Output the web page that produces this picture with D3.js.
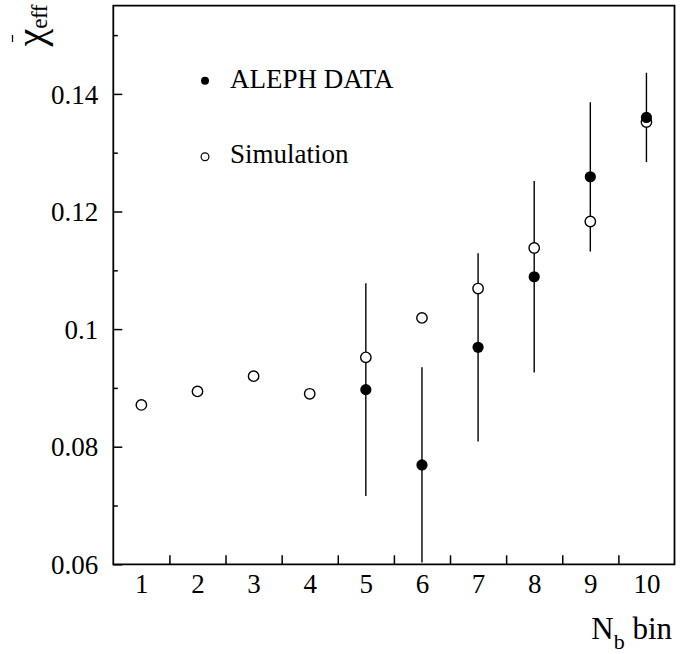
<!DOCTYPE html>
<html>
<head>
<meta charset="utf-8">
<script src="https://cdn.jsdelivr.net/npm/d3@7"></script>
<style>
  html, body { margin: 0; padding: 0; background: #fff; }
  svg { display: block; }
  text { font-family: "Liberation Serif", "Times New Roman", serif; fill: #000; }
</style>
</head>
<body>
<svg id="chart" width="699" height="654"></svg>
<script>
// N_b bins
const bins = [1, 2, 3, 4, 5, 6, 7, 8, 9, 10];
// Simulated effective mixing parameter per bin
const simValues = [0.0871, 0.0894, 0.0920, 0.0890, 0.0952, 0.1019, 0.1069, 0.1138, 0.1183, 0.1352];
// ALEPH measurements (bins 5-10) and their uncertainties
const dataBins = [5, 6, 7, 8, 9, 10];
const dataValues = [0.0897, 0.0769, 0.0969, 0.1089, 0.1259, 0.1360];
const dataErrors = [0.0181, 0.0166, 0.0160, 0.0163, 0.0127, 0.0076];
// Axis ticks
const yMajorTicks = [0.06, 0.08, 0.10, 0.12, 0.14];
const yTickLabels = ["0.06", "0.08", "0.1", "0.12", "0.14"];
const yMinorTicks = [0.07, 0.09, 0.11, 0.13, 0.15];
const xEdgeTicks = [1.5, 2.5, 3.5, 4.5, 5.5, 6.5, 7.5, 8.5, 9.5];

const svg = d3.select("#chart");
const frameL = 113.3, frameR = 674.5, frameT = 5.7, frameB = 564.3;

const x = d3.scaleLinear().domain([0.5, 10.5]).range([frameL, frameR]);
const y = d3.scaleLinear().domain([0.06, 0.155]).range([frameB, frameT]);

svg.append("defs").append("clipPath").attr("id", "plotArea")
  .append("rect")
  .attr("x", frameL).attr("y", frameT)
  .attr("width", frameR - frameL).attr("height", frameB - frameT);

// Y axis: long ticks with labels, short ticks in between
const yAxis = d3.axisLeft(y)
  .tickValues(yMajorTicks)
  .tickSize(-9)
  .tickPadding(15)
  .tickFormat((d, i) => yTickLabels[i]);
const gy = svg.append("g").attr("transform", `translate(${frameL},0)`).call(yAxis);
gy.select(".domain").remove();
gy.selectAll(".tick line").attr("stroke", "#000").attr("stroke-width", 1.5);
gy.selectAll(".tick text")
  .attr("font-size", 27)
  .attr("font-family", "Liberation Serif, serif")
  .attr("dy", "0.34em");

const yMinor = d3.axisLeft(y).tickValues(yMinorTicks).tickSize(-4.5).tickFormat("");
const gym = svg.append("g").attr("transform", `translate(${frameL},0)`).call(yMinor);
gym.select(".domain").remove();
gym.selectAll(".tick line").attr("stroke", "#000").attr("stroke-width", 1.5);

// X axis: ticks at bin edges, labels at bin centres
const xAxis = d3.axisBottom(x).tickValues(xEdgeTicks).tickSize(-9).tickFormat("");
const gx = svg.append("g").attr("transform", `translate(0,${frameB})`).call(xAxis);
gx.select(".domain").remove();
gx.selectAll(".tick line").attr("stroke", "#000").attr("stroke-width", 1.5);

const xLabels = d3.axisBottom(x).tickValues(bins).tickSize(0).tickPadding(10).tickFormat(d3.format("d"));
const gxl = svg.append("g").attr("transform", `translate(0,${frameB})`).call(xLabels);
gxl.select(".domain").remove();
gxl.selectAll(".tick text")
  .attr("font-size", 27)
  .attr("font-family", "Liberation Serif, serif")
  .attr("dy", "0.71em");

// Frame
svg.append("path")
  .attr("d", `M${frameL},${frameB}V${frameT}H${frameR}V${frameB}Z`)
  .attr("fill", "none").attr("stroke", "#000").attr("stroke-width", 1.8);

const plot = svg.append("g").attr("clip-path", "url(#plotArea)");

// Error bars of the measurement
plot.selectAll("line.err")
  .data(dataBins.map((b, i) => ({ b, v: dataValues[i], e: dataErrors[i] })))
  .join("line")
  .attr("class", "err")
  .attr("x1", d => x(d.b)).attr("x2", d => x(d.b))
  .attr("y1", d => y(d.v - d.e)).attr("y2", d => y(d.v + d.e))
  .attr("stroke", "#000").attr("stroke-width", 1.4);

// Simulation points (open circles)
plot.selectAll("circle.sim")
  .data(bins.map((b, i) => ({ b, v: simValues[i] })))
  .join("circle")
  .attr("class", "sim")
  .attr("cx", d => x(d.b)).attr("cy", d => y(d.v))
  .attr("r", 5.2)
  .attr("fill", "#fff").attr("stroke", "#000").attr("stroke-width", 1.4);

// ALEPH data points (filled circles)
plot.selectAll("circle.data")
  .data(dataBins.map((b, i) => ({ b, v: dataValues[i] })))
  .join("circle")
  .attr("class", "data")
  .attr("cx", d => x(d.b)).attr("cy", d => y(d.v))
  .attr("r", 5.6)
  .attr("fill", "#000");

// Legend
const legend = svg.append("g");
legend.append("circle").attr("cx", 205).attr("cy", 80.7).attr("r", 4).attr("fill", "#000");
legend.append("text").attr("x", 230).attr("y", 88.3).attr("font-size", 27).text("ALEPH DATA");
legend.append("circle").attr("cx", 205).attr("cy", 156.7).attr("r", 3.9)
  .attr("fill", "#fff").attr("stroke", "#000").attr("stroke-width", 1.2);
legend.append("text").attr("x", 230).attr("y", 163.3).attr("font-size", 27).text("Simulation");

// X axis title: N_b bin
const xt = svg.append("text")
  .attr("x", 672).attr("y", 639)
  .attr("text-anchor", "end")
  .attr("font-size", 31);
xt.append("tspan").text("N");
xt.append("tspan").attr("font-size", 22).attr("dy", 10).text("b");
xt.append("tspan").attr("dy", -10).text(" bin");

// Y axis title: barred chi with "eff" subscript, rotated
const yt = svg.append("g").attr("transform", "translate(43.5,5) rotate(-90)");
const ytt = yt.append("text")
  .attr("x", 0).attr("y", 0)
  .attr("text-anchor", "end")
  .attr("font-size", 40);
ytt.append("tspan").text("χ");
ytt.append("tspan").attr("font-size", 23).attr("dy", 3.5).attr("letter-spacing", -0.5).text("eff");
yt.append("line")
  .attr("x1", -37).attr("x2", -30)
  .attr("y1", -31).attr("y2", -31)
  .attr("stroke", "#000").attr("stroke-width", 1.3);
</script>
</body>
</html>
